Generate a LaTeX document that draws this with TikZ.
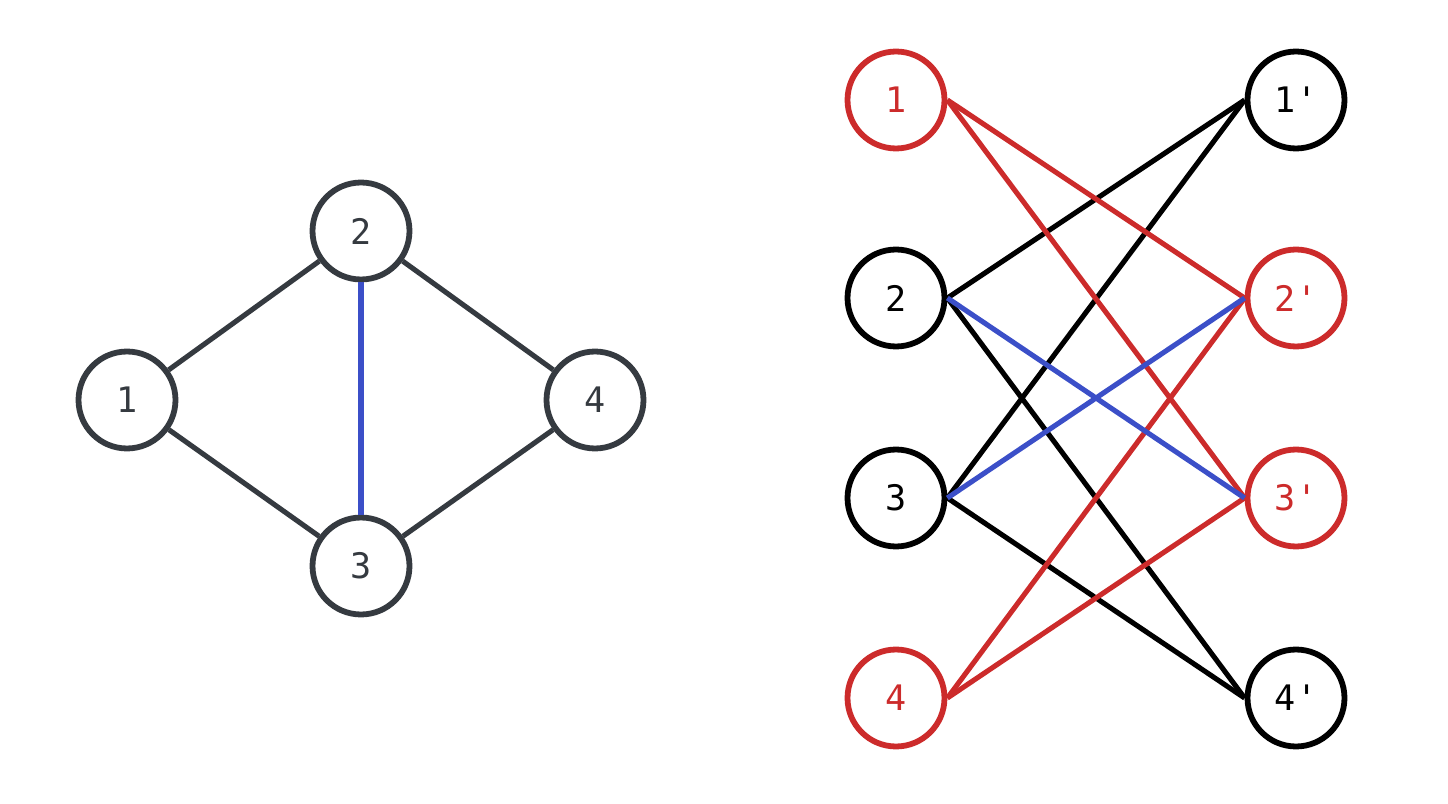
\documentclass[tikz,border=0pt]{standalone}
\usepackage{fontspec}
\setmonofont{DejaVu Sans Mono}
\definecolor{slate}{HTML}{353A40}
\definecolor{hired}{HTML}{CC2B2B}
\definecolor{hiblue}{HTML}{3B4FC8}
\tikzset{
  vtx/.style={circle, draw, line width=3.3pt, minimum size=1.94cm, inner sep=0pt,
    font=\ttfamily\fontsize{20}{20}\selectfont},
  edge/.style={line width=2.9pt},
}
\begin{document}
\begin{tikzpicture}[x=0.02cm, y=-0.02cm]
  \useasboundingbox (0,0) rectangle (1448,804);

  % Original graph
  \node[vtx, draw=slate, text=slate] (g1) at (127,400) {1};
  \node[vtx, draw=slate, text=slate] (g2) at (361,231) {2};
  \node[vtx, draw=slate, text=slate] (g3) at (361,566) {3};
  \node[vtx, draw=slate, text=slate] (g4) at (595,400) {4};
  \draw[edge, slate] (g1) -- (g2);
  \draw[edge, slate] (g1) -- (g3);
  \draw[edge, slate] (g2) -- (g4);
  \draw[edge, slate] (g3) -- (g4);
  \draw[edge, hiblue] (g2) -- (g3);

  % Bipartite double cover, left side
  \node[vtx, draw=hired, text=hired] (l1) at (896,100) {1};
  \node[vtx] (l2) at (896,298) {2};
  \node[vtx] (l3) at (896,498) {3};
  \node[vtx, draw=hired, text=hired] (l4) at (896,698) {4};

  % right side
  \node[vtx] (r1) at (1296,100) {1'};
  \node[vtx, draw=hired, text=hired] (r2) at (1296,298) {2'};
  \node[vtx, draw=hired, text=hired] (r3) at (1296,498) {3'};
  \node[vtx] (r4) at (1296,698) {4'};

  % Black edges
  \draw[edge] (l2.east) -- (r1.west);
  \draw[edge] (l2.east) -- (r4.west);
  \draw[edge] (l3.east) -- (r1.west);
  \draw[edge] (l3.east) -- (r4.west);

  % Red edges
  \draw[edge, hired] (l1.east) -- (r2.west);
  \draw[edge, hired] (l1.east) -- (r3.west);
  \draw[edge, hired] (l4.east) -- (r2.west);
  \draw[edge, hired] (l4.east) -- (r3.west);

  % Blue edges
  \draw[edge, hiblue] (l2.east) -- (r3.west);
  \draw[edge, hiblue] (l3.east) -- (r2.west);
\end{tikzpicture}
\end{document}
